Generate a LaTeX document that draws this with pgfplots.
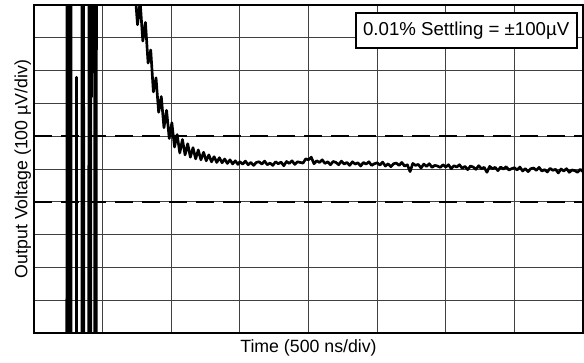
\documentclass[border=0pt]{standalone}
\usepackage{fontspec}
\setmainfont{Liberation Sans}
\usepackage{pgfplots}
\pgfplotsset{compat=1.18}
\begin{document}
\begin{tikzpicture}
\begin{axis}[
  scale only axis, width=411.75pt, height=246pt,
  xmin=0, xmax=8, ymin=0, ymax=10,
  xtick={0,...,8}, ytick={0,...,10},
  xticklabels={}, yticklabels={},
  major tick length=0pt,
  grid=major,
  major grid style={black!75, line width=0.6pt},
  axis line style={line width=2pt},
  xlabel={Time (500 ns/div)},
  ylabel={Output Voltage (100 µV/div)},
  label style={font=\fontsize{13.3}{15}\selectfont},
  xlabel style={at={(axis description cs:0.5,-0.018)}, anchor=north, inner sep=0pt},
  ylabel style={at={(axis description cs:-0.005,0.5)}, anchor=south, inner sep=0pt},
]
\addplot[line width=1.8pt, dash pattern=on 13.5pt off 6.75pt] coordinates {(0,6) (8,6)};
\addplot[line width=1.8pt, dash pattern=on 13.5pt off 6.75pt] coordinates {(0,4) (8,4)};
\addplot[black, line width=2pt, line join=round] coordinates {
(0.0,-2) (0.478,-2) (0.48,12) (0.498,12) (0.50,-2) (0.523,-2) (0.525,12) (0.538,12) (0.54,-2)
(0.618,-2) (0.62,7.8) (0.622,-2)
(0.698,-2) (0.70,12) (0.723,12) (0.725,-2)
(0.798,-2) (0.80,12) (0.813,12) (0.815,-2) (0.828,-2) (0.83,12) (0.838,12) (0.84,7.2) (0.842,12)
(0.883,12) (0.885,-2) (0.908,-2) (0.91,12) (1.0,12) (1.40,12)
(1.47,10.45) (1.5085,9.40) (1.547,10.11) (1.5855,8.90) (1.624,9.47) (1.6625,8.23) (1.701,8.63)
(1.7395,7.35) (1.778,7.78) (1.8165,6.73) (1.855,7.21) (1.8935,6.26) (1.932,6.79) (1.9705,5.93)
(2.009,6.41) (2.0475,5.67) (2.086,6.05) (2.1245,5.49) (2.163,5.90) (2.2015,5.43) (2.24,5.77)
(2.2785,5.36) (2.317,5.65) (2.3555,5.31) (2.394,5.58) (2.4325,5.28) (2.471,5.51) (2.5095,5.25)
(2.548,5.43) (2.5865,5.22) (2.625,5.375) (2.6635,5.20) (2.702,5.345) (2.7405,5.19) (2.779,5.305)
(2.8175,5.17) (2.856,5.28) (2.8945,5.155) (2.933,5.25) (2.9715,5.14)
(3.00,5.22) (3.04,5.15) (3.08,5.24) (3.12,5.13) (3.16,5.20) (3.20,5.11) (3.24,5.20) (3.28,5.22)
(3.32,5.15) (3.36,5.24) (3.40,5.13) (3.44,5.18) (3.48,5.11) (3.52,5.22) (3.56,5.16) (3.60,5.21)
(3.64,5.10) (3.68,5.23) (3.72,5.17) (3.76,5.25) (3.80,5.14) (3.84,5.22) (3.88,5.20) (3.92,5.18)
(3.96,5.31) (4.00,5.28) (4.04,5.36) (4.08,5.16) (4.12,5.25) (4.16,5.20) (4.20,5.28) (4.24,5.17)
(4.28,5.22) (4.32,5.13) (4.36,5.23) (4.40,5.20) (4.44,5.13) (4.48,5.24) (4.52,5.15) (4.56,5.20)
(4.60,5.11) (4.64,5.22) (4.68,5.15) (4.72,5.19) (4.76,5.09) (4.80,5.20) (4.84,5.15) (4.88,5.22)
(4.92,5.11) (4.96,5.16) (5.00,5.19) (5.04,5.12) (5.08,5.21) (5.12,5.09) (5.16,5.16) (5.20,5.07)
(5.24,5.16) (5.28,5.18) (5.32,5.11) (5.36,5.20) (5.40,5.09) (5.44,5.13) (5.48,4.92) (5.52,5.17)
(5.56,5.11) (5.60,5.14) (5.64,5.03) (5.68,5.15) (5.72,5.08) (5.76,5.16) (5.80,5.05) (5.84,5.11)
(5.88,5.09) (5.92,5.05) (5.96,5.13) (6.00,5.06) (6.04,5.13) (6.08,5.01) (6.12,5.10) (6.16,5.06)
(6.20,5.13) (6.24,5.02) (6.28,5.08) (6.32,4.98) (6.36,5.09) (6.40,5.06) (6.44,4.99) (6.48,5.10)
(6.52,5.01) (6.56,5.05) (6.60,4.90) (6.64,5.08) (6.68,5.01) (6.72,5.05) (6.76,4.95) (6.80,5.06)
(6.84,5.00) (6.88,5.07) (6.92,4.97) (6.96,5.01) (7.00,5.04) (7.04,4.97) (7.08,5.06) (7.12,4.94)
(7.16,5.01) (7.20,4.92) (7.24,5.01) (7.28,5.03) (7.32,4.96) (7.36,5.05) (7.40,4.94) (7.44,4.98)
(7.48,4.91) (7.52,5.02) (7.56,4.96) (7.60,4.99) (7.64,4.88) (7.68,5.00) (7.72,4.94) (7.76,5.01)
(7.80,4.90) (7.84,4.97) (7.88,4.95) (7.92,4.90) (7.96,4.99) (8.00,4.92)
};
\node[draw, line width=1.5pt, fill=white, anchor=north east, outer sep=0pt, inner sep=0pt,
  minimum width=165.75pt, minimum height=26.25pt, font=\fontsize{14}{16}\selectfont]
  at (axis cs:7.908,9.756) {0.01\% Settling = ±100µV};
\end{axis}
\pgfresetboundingbox
\path (current axis.south west) ++(-25.5pt,-21.75pt) rectangle ++(438pt,271.5pt);
\end{tikzpicture}
\end{document}
